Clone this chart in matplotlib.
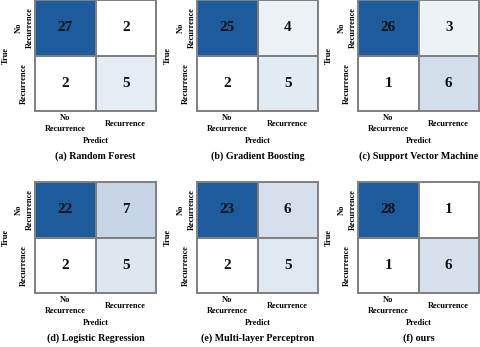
import numpy as np
import matplotlib
matplotlib.use("Agg")
import matplotlib.pyplot as plt
from matplotlib.colors import LinearSegmentedColormap

titles = ["(a) Random Forest", "(b) Gradient Boosting", "(c) Support Vector Machine",
          "(d) Logistic Regression", "(e) Multi-layer Perceptron", "(f) ours"]
matrices = [
    [[27, 2], [2, 5]],
    [[25, 4], [2, 5]],
    [[26, 3], [1, 6]],
    [[22, 7], [2, 5]],
    [[23, 6], [2, 5]],
    [[28, 1], [1, 6]],
]
xticklabels = ["No\nRecurrence", "Recurrence"]
yticklabels = ["No\nRecurrence", "Recurrence"]
xlabel = "Predict"
ylabel = "True"

plt.rcParams['font.family'] = ['Liberation Serif', 'DejaVu Serif']
plt.rcParams['font.weight'] = 'bold'

cmap = LinearSegmentedColormap.from_list("cm", ["#ffffff", "#1e5b9c"])

W, H = 480, 347
fig = plt.figure(figsize=(4.8, 3.47), dpi=100)

lefts = [35, 197, 358]
tops = [0, 182]
aw, ah = 121, 111

for i, (m, t) in enumerate(zip(matrices, titles)):
    r, c = divmod(i, 3)
    x0 = lefts[c]
    y0 = tops[r]
    ax = fig.add_axes([x0 / W, 1 - (y0 + ah) / H, aw / W, ah / H])
    arr = np.array(m)
    ax.pcolormesh(arr, cmap=cmap, vmin=arr.min(), vmax=arr.max(),
                  edgecolors="#808080", linewidth=1.4)
    ax.set_xlim(0, 2)
    ax.set_ylim(2, 0)
    for yy in range(2):
        for xx in range(2):
            ax.text(xx + 0.5, yy + 0.5, str(arr[yy, xx]), ha="center", va="center",
                    fontsize=11, fontweight="bold", color="#111111")
    for s in ax.spines.values():
        s.set_color("#808080")
        s.set_linewidth(1.4)
    ax.set_xticks([0.5, 1.5])
    ax.set_xticklabels(xticklabels, fontsize=6, fontweight="bold", linespacing=1.5)
    ax.set_yticks([0.5, 1.5])
    ax.set_yticklabels(yticklabels, fontsize=6, fontweight="bold", rotation=90,
                       linespacing=1.5)
    for lab in ax.get_xticklabels():
        lab.set_va("center")
        lab.set_multialignment("center")
    for lab in ax.get_yticklabels():
        lab.set_ha("center")
        lab.set_va("center")
        lab.set_multialignment("center")
    ax.tick_params(axis="x", length=0, pad=9)
    ax.tick_params(axis="y", length=0, pad=8)
    ax.text(0.5, -30 / ah, xlabel, transform=ax.transAxes, ha="center", va="center",
            fontsize=6, fontweight="bold")
    ax.text(-29 / aw, 0.5, ylabel, transform=ax.transAxes, ha="center", va="center",
            fontsize=6, fontweight="bold", rotation=90)
    ax.text(0.5, -45 / ah, t, transform=ax.transAxes, ha="center", va="center",
            fontsize=7.2, fontweight="bold")

fig.savefig("out.png", dpi=100)
